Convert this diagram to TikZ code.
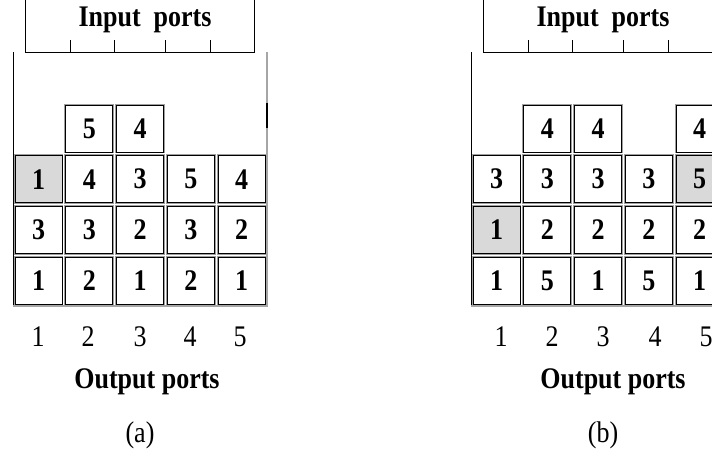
\documentclass[tikz,border=0pt]{standalone}
\usepackage{graphicx}
\usepackage{fontspec}
\setmainfont{Liberation Serif}
% slightly tall lettering
\newcommand{\tallglyphs}[1]{\scalebox{1}[1.15]{#1}}
\begin{document}
\begin{tikzpicture}[x=1pt,y=-1pt,
  cell/.style={minimum width=47pt, minimum height=47pt, inner sep=0pt,
    preaction={draw=gray!75, line width=2.6pt},
    draw=black, line width=0.9pt, fill=white,
    font=\fontsize{26}{28}\selectfont\bfseries},
  hicell/.style={cell, fill=gray!30},
  frame/.style={line width=1pt, draw=black},
  grayframe/.style={line width=2pt, draw=gray!70},
  heading/.style={font=\fontsize{26}{30}\selectfont\bfseries, inner sep=0pt},
  portnum/.style={font=\fontsize{26}{30}\selectfont, inner sep=0pt},
  caption/.style={font=\fontsize{26}{30}\selectfont, inner sep=0pt}]
\useasboundingbox (0,0) rectangle (712,459);
\clip (0,0) rectangle (712,459);

% ---------- panel (a) ----------
\begin{scope}
  % input port bracket
  \draw[frame] (25,0) -- (25,52) -- (254,52) -- (254,0);
  \foreach \t in {70,114,165,210} \draw[frame] (\t,40) -- (\t,52);
  \node[heading] (a-in) at (145,20) {\tallglyphs{Input\ \ ports}};
  % switch body
  \draw[frame] (13,52) -- (13,306);
  \draw[grayframe] (13,306) -- (267,306) -- (267,52);
  \draw[line width=2.6pt] (267,103) -- (267,128);
  % buffer cells, rows top to bottom
  \foreach \c/\r/\v/\s in {2/0/5/cell, 3/0/4/cell,
      1/1/1/hicell, 2/1/4/cell, 3/1/3/cell, 4/1/5/cell, 5/1/4/cell,
      1/2/3/cell, 2/2/3/cell, 3/2/2/cell, 4/2/3/cell, 5/2/2/cell,
      1/3/1/cell, 2/3/2/cell, 3/3/1/cell, 4/3/2/cell, 5/3/1/cell}
    \node[\s] (a-r\r c\c) at ({38.5+50.75*(\c-1)},{128.5+50.7*\r}) {\tallglyphs{\v}};
  % output port numbers
  \foreach \n/\x in {1/38,2/88,3/140,4/190,5/240}
    \node[portnum] (a-out\n) at (\x,337) {\tallglyphs{\n}};
  \node[heading] (a-outlabel) at (147,382) {\tallglyphs{Output ports}};
  \node[caption] (a-cap) at (140,435) {\tallglyphs{(a)}};
\end{scope}

% ---------- panel (b) ----------
\begin{scope}
  % input port bracket
  \draw[frame] (483,0) -- (483,52) -- (712,52);
  \foreach \t in {528,572,623,668} \draw[frame] (\t,40) -- (\t,52);
  \node[heading] (b-in) at (603,20) {\tallglyphs{Input\ \ ports}};
  % switch body
  \draw[frame] (471,52) -- (471,306);
  \draw[grayframe] (471,306) -- (725,306);
  % buffer cells, rows top to bottom
  \foreach \c/\r/\v/\s in {2/0/4/cell, 3/0/4/cell, 5/0/4/cell,
      1/1/3/cell, 2/1/3/cell, 3/1/3/cell, 4/1/3/cell, 5/1/5/hicell,
      1/2/1/hicell, 2/2/2/cell, 3/2/2/cell, 4/2/2/cell, 5/2/2/cell,
      1/3/1/cell, 2/3/5/cell, 3/3/1/cell, 4/3/5/cell, 5/3/1/cell}
    \node[\s] (b-r\r c\c) at ({496.5+50.75*(\c-1)},{128.5+50.7*\r}) {\tallglyphs{\v}};
  % output port numbers
  \foreach \n/\x in {1/501,2/552,3/603,4/655,5/706}
    \node[portnum] (b-out\n) at (\x,337) {\tallglyphs{\n}};
  \node[heading] (b-outlabel) at (613,382) {\tallglyphs{Output ports}};
  \node[caption] (b-cap) at (603,435) {\tallglyphs{(b)}};
\end{scope}
\end{tikzpicture}
\end{document}
